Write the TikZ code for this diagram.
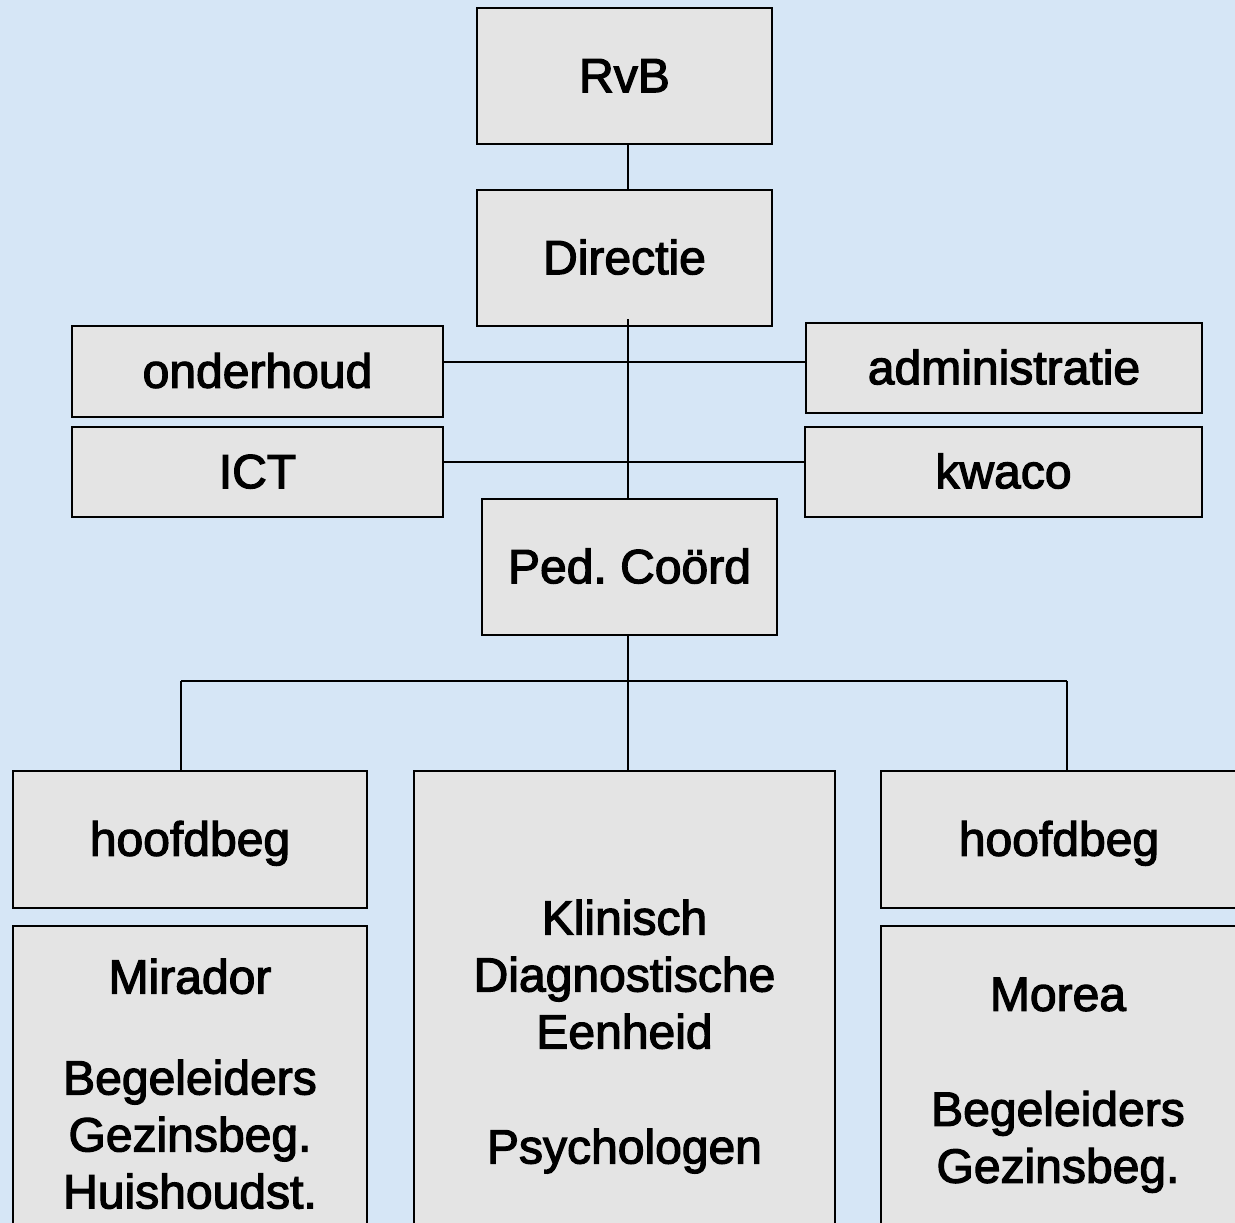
\documentclass[tikz,border=0pt]{standalone}
\usepackage{fontspec}
\setmainfont{Liberation Sans}
\newfontfamily\orgfont{Liberation Sans}[FakeBold=2.5]
\frenchspacing
\definecolor{sky}{HTML}{D6E6F6}
\definecolor{stone}{HTML}{E4E4E4}
\tikzset{
  orgbox/.style={draw=black, line width=0.65pt, fill=stone, rectangle, inner sep=0pt,
    font=\orgfont\fontsize{13.66pt}{16.2pt}\selectfont, text height=0.92em, text depth=0pt},
  lines/.style={font=\orgfont\fontsize{13.66pt}{16.2pt}\selectfont, align=center, inner sep=0pt, anchor=north},
  link/.style={draw=black, line width=0.6pt}
}
\begin{document}
\begin{tikzpicture}[x=0.01cm, y=-0.01cm]
  \clip (0,0) rectangle (1235,1223);
  \fill[sky] (0,0) rectangle (1235,1223);

  % top of the hierarchy
  \node[orgbox, minimum width=2.95cm, minimum height=1.36cm] (rvb) at (624.5,76) {RvB};
  \node[orgbox, minimum width=2.95cm, minimum height=1.36cm] (dir) at (624.5,258) {Directie};

  % staff services
  \node[orgbox, minimum width=3.71cm, minimum height=0.91cm] (ond) at (257.5,371.5) {onderhoud};
  \node[orgbox, minimum width=3.96cm, minimum height=0.90cm] (adm) at (1004,368) {administratie};
  \node[orgbox, minimum width=3.71cm, minimum height=0.90cm] (ict) at (257.5,472) {ICT};
  \node[orgbox, minimum width=3.97cm, minimum height=0.90cm] (kwa) at (1003.5,472) {kwaco};

  \node[orgbox, minimum width=2.95cm, minimum height=1.36cm] (ped) at (629.5,567) {Ped. Coörd};

  % units
  \node[orgbox, minimum width=3.54cm, minimum height=1.37cm] (hbl) at (190,839.5) {hoofdbeg};
  \node[orgbox, minimum width=3.54cm, minimum height=3.34cm] (mir) at (190,1093) {};
  \node[orgbox, minimum width=4.21cm, minimum height=4.89cm] (kde) at (624.5,1015.5) {};
  \node[orgbox, minimum width=3.56cm, minimum height=1.37cm] (hbr) at (1059,839.5) {hoofdbeg};
  \node[orgbox, minimum width=3.56cm, minimum height=3.34cm] (mor) at (1059,1093) {};

  \node[lines] (mirtxt) at (190,958) {Mirador\\[12.5pt]Begeleiders\\Gezinsbeg.\\Huishoudst.};
  \node[lines] (kdetxt) at (624.5,899) {Klinisch\\Diagnostische\\Eenheid\\[16.5pt]Psychologen};
  \node[lines] (mortxt) at (1058,977) {Morea\\[16.5pt]Begeleiders\\Gezinsbeg.};

  % connectors: one vertical spine with two staff rails and a unit bus
  \coordinate (spine) at (628,0);
  \coordinate (st1) at (628,362);
  \coordinate (st2) at (628,462);
  \coordinate (busl) at (181,681);
  \coordinate (busr) at (1067,681);

  \draw[link] (rvb.south -| spine) -- (dir.north -| spine);
  \draw[link, shorten <=-0.08cm] (dir.south -| spine) -- (ped.north -| spine);
  \draw[link] (ond.east |- st1) -- (adm.west |- st1);
  \draw[link] (ict.east |- st2) -- (kwa.west |- st2);
  \draw[link] (ped.south -| spine) -- (kde.north -| spine);
  \draw[link] (busl) -- (busr);
  \draw[link] (busl) -- (busl |- hbl.north);
  \draw[link] (busr) -- (busr |- hbr.north);
\end{tikzpicture}
\end{document}
